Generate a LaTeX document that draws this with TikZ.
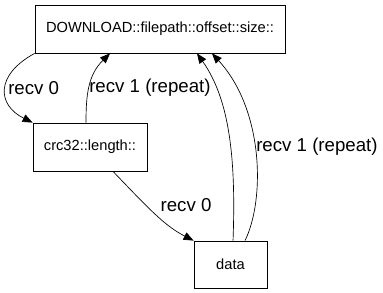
\documentclass[tikz,border=0pt]{standalone}
\usepackage{fontspec}
\setmainfont{Liberation Sans}
\usetikzlibrary{arrows.meta}

\tikzset{
  state/.style={draw,line width=0.6pt,inner sep=0pt,font=\fontsize{11}{12}\selectfont},
  trans/.style={line width=0.5pt,-{Triangle[length=7.5pt,width=6pt]}},
  lbl/.style={inner sep=0pt,font=\fontsize{14}{15}\selectfont}
}

\begin{document}
\begin{tikzpicture}[x=0.75pt,y=-0.75pt]
  \useasboundingbox (0,0) rectangle (383,293);
  % states
  \node[state,minimum width=187.5pt,minimum height=36pt] (dl) at (160,29) {DOWNLOAD::filepath::offset::size::};
  \node[state,minimum width=85.5pt,minimum height=36pt] (crc) at (90,147) {crc32::length::};
  \node[state,minimum width=54.75pt,minimum height=35.25pt] (data) at (230.5,264.5) {data};
  % transitions
  \draw[trans] (dl.south west) .. controls (-5,75) and (-3,105) .. (crc.north west);
  \draw[trans] ([xshift=-3pt]crc.north) .. controls (86,95) and (88,75) .. ([xshift=-37.5pt]dl.south);
  \draw[trans] ([xshift=17.25pt]crc.south) .. controls (150,210) and (165,226) .. (data.north west);
  \draw[trans] ([xshift=1.9pt]data.north) .. controls (236,160) and (230,100) .. ([xshift=27.75pt]dl.south);
  \draw[trans] ([xshift=10.9pt]data.north) .. controls (265,200) and (264,110) .. ([xshift=39pt]dl.south);
  % labels
  \node[lbl,anchor=west] (r0a) at (8,88) {recv 0};
  \node[lbl,anchor=west] (r1a) at (89,88) {recv 1 (repeat)};
  \node[lbl] (r0b) at (186,205) {recv 0};
  \node[lbl,anchor=west] (r1b) at (256,147) {recv 1 (repeat)};
\end{tikzpicture}
\end{document}
